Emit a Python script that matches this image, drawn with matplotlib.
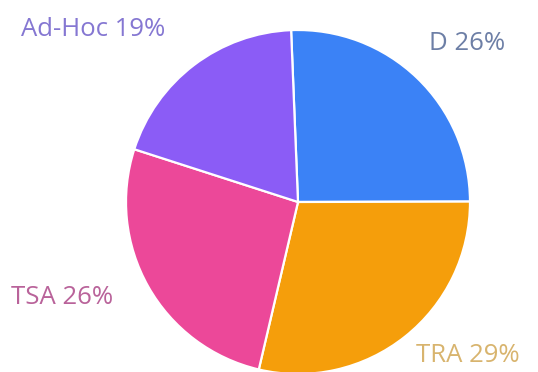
import matplotlib.pyplot as plt

# slice data (clockwise from the top)
labels = ['D', 'TRA', 'TSA', 'Ad-Hoc']
values = [25.6, 28.7, 26.3, 19.4]
colors = ['#3b82f6', '#f59e0b', '#ec4899', '#8b5cf6']
label_colors = ['#6d7fa6', '#d8b46e', '#b9639a', '#8577d2']
label_pos = [(467, 328), (468, 17), (62, 75), (93, 342)]

plt.rcParams['font.family'] = ['Open Sans', 'DejaVu Sans']

fig = plt.figure(figsize=(5.38, 3.72), dpi=100)
ax = fig.add_axes([0, 0, 1, 1])

ax.pie(values, colors=colors, startangle=92.3, counterclock=False,
       center=(298, 170), radius=172, frame=True,
       wedgeprops=dict(edgecolor='white', linewidth=1.6))
ax.set_xlim(0, 538)
ax.set_ylim(0, 372)
ax.set_aspect('equal')
ax.axis('off')

total = sum(values)
for lab, v, c, (x, y) in zip(labels, values, label_colors, label_pos):
    ax.text(x, y, f'{lab} {round(v / total * 100)}%', color=c,
            fontsize=18.5, ha='center', va='center')

fig.savefig('out.png', dpi=100)
